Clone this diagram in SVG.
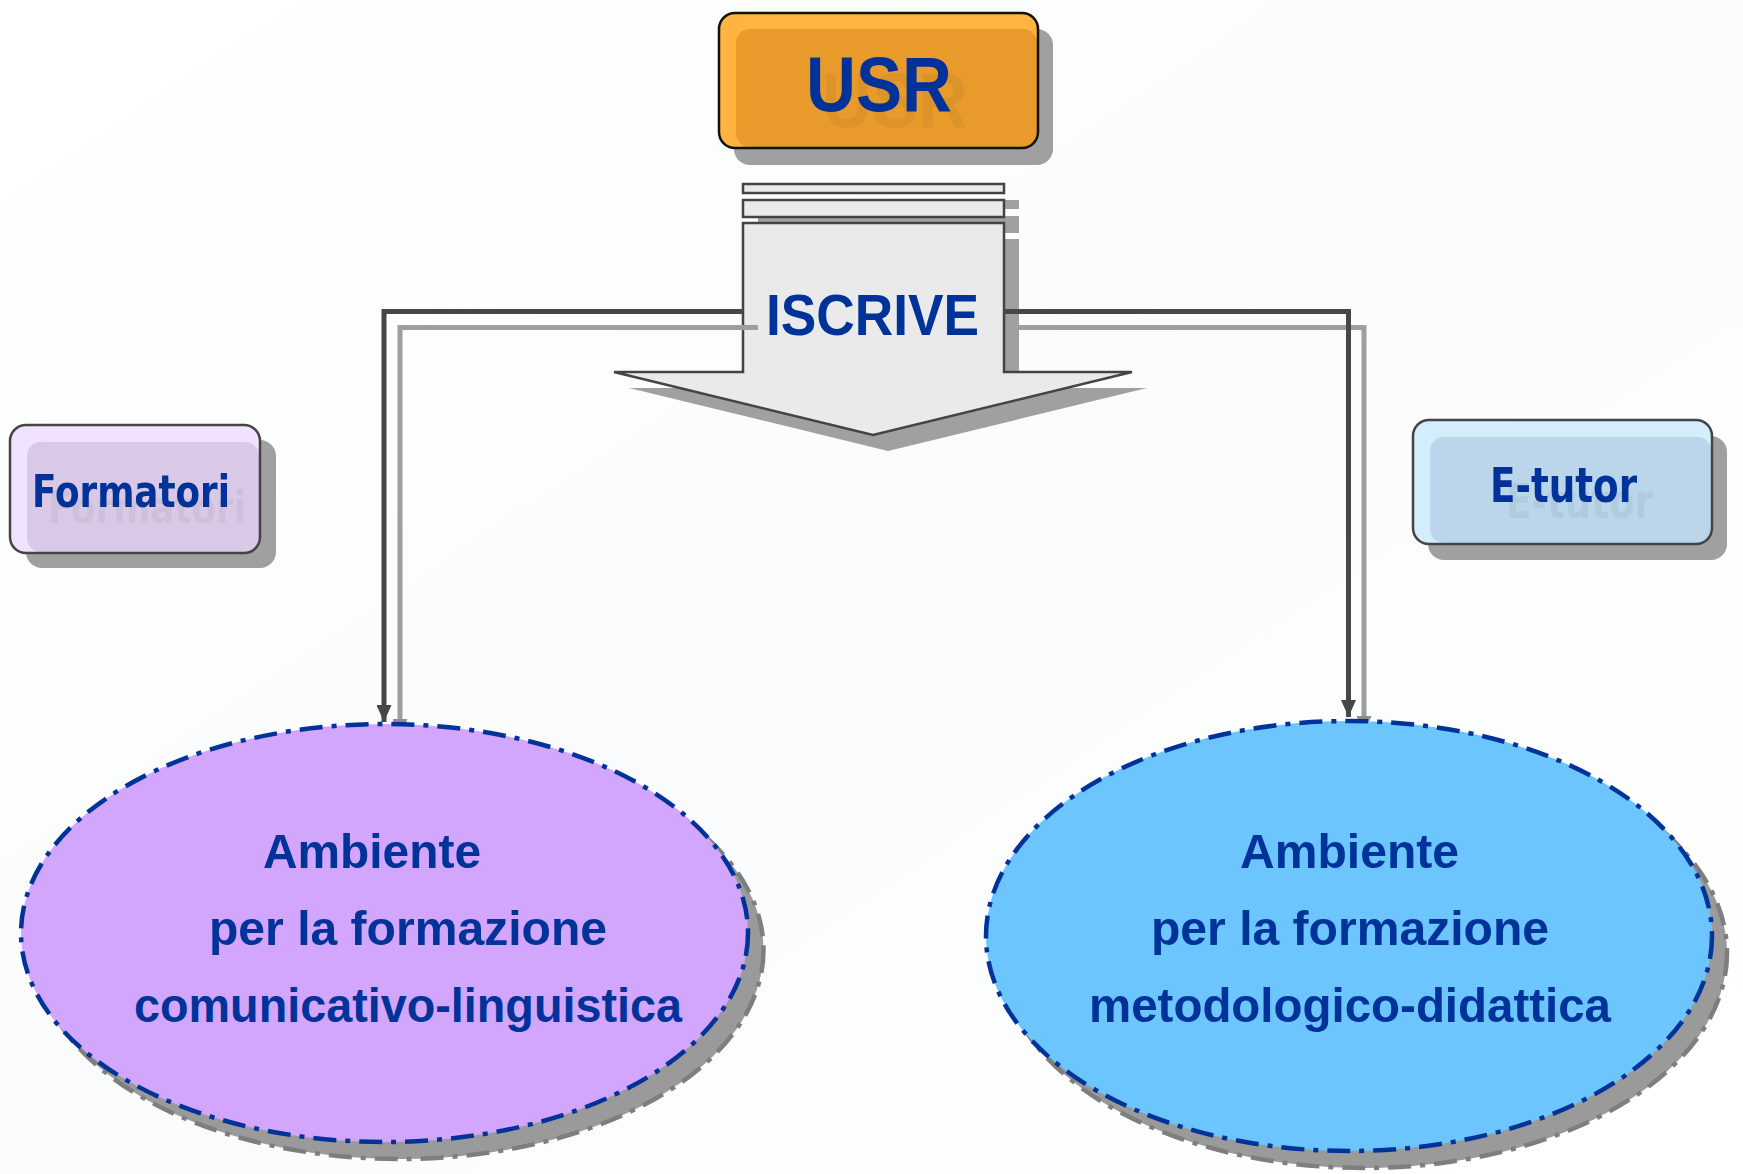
<svg xmlns="http://www.w3.org/2000/svg" width="1743" height="1174" viewBox="0 0 1743 1174">
<defs>
<style>
.shadow{fill:#A0A0A0;}
.box{stroke:#444;stroke-width:2.5;fill:none;}
.lbl{fill:#003399;font-family:"Liberation Sans",Arial,sans-serif;font-weight:bold;}
.lbl2{fill:#003399;font-family:"DejaVu Sans","Liberation Sans",sans-serif;font-weight:bold;}
.etxt{fill:#003399;font-family:"Liberation Sans Narrow","Liberation Sans",Arial,sans-serif;font-weight:bold;font-size:49px;}
.ell{stroke:#003399;stroke-width:4.5;stroke-dasharray:23 9 5 9;}
.ellsh{fill:#9A9A9A;stroke:#7E7E7E;stroke-width:4.5;stroke-dasharray:23 9 5 9;}
.conn{fill:none;stroke:#474747;stroke-width:5;}
.connsh{fill:none;stroke:#9E9E9E;stroke-width:5;}
.arr{fill:#EAEAEA;stroke:#444;stroke-width:2.5;}
</style>
<marker id="mDark" markerUnits="userSpaceOnUse" markerWidth="17" markerHeight="15" refX="17" refY="7.5" orient="auto" viewBox="0 0 17 15">
<path d="M0,0 L17,7.5 L0,15 z" fill="#474747"/>
</marker>
<marker id="mGray" markerUnits="userSpaceOnUse" markerWidth="17" markerHeight="15" refX="17" refY="7.5" orient="auto" viewBox="0 0 17 15">
<path d="M0,0 L17,7.5 L0,15 z" fill="#8E8E8E"/>
</marker>
<filter id="ghost" x="-20%" y="-20%" width="150%" height="160%">
<feOffset in="SourceAlpha" dx="16" dy="16" result="o"/>
<feFlood flood-color="#000" flood-opacity="0.05"/>
<feComposite in2="o" operator="in" result="s"/>
<feMerge><feMergeNode in="s"/><feMergeNode in="SourceGraphic"/></feMerge>
</filter>
<linearGradient id="bg" x1="0" y1="0" x2="1" y2="1">
<stop offset="0" stop-color="#FFFFFF"/>
<stop offset="0.5" stop-color="#FAFBFC"/>
<stop offset="1" stop-color="#FFFFFF"/>
</linearGradient>
</defs>
<rect x="0" y="0" width="1743" height="1174" fill="url(#bg)"/>

<g id="node-iscrive">
<rect class="shadow" x="758" y="200" width="261" height="9"/>
<rect class="shadow" x="758" y="216" width="261" height="17"/>
<polygon class="shadow" points="758,239 1019,239 1019,388 1147,388 888,451 629,388 758,388"/>
<rect class="arr" x="743" y="184" width="261" height="9"/>
<rect class="arr" x="743" y="200" width="261" height="17"/>
<polygon class="arr" points="743,223 1004,223 1004,372 1132,372 873,435 614,372 743,372"/>
<text class="lbl" x="766" y="335" font-size="58" textLength="213" lengthAdjust="spacingAndGlyphs">ISCRIVE</text>
</g>

<g id="connectors">
<path class="connsh" d="M758,327.5 H400 V736" marker-end="url(#mGray)"/>
<path class="connsh" d="M1019,327.5 H1364 V733" marker-end="url(#mGray)"/>
<path class="conn" d="M743,311.5 H384 V722" marker-end="url(#mDark)"/>
<path class="conn" d="M1004,311.5 H1348.5 V717" marker-end="url(#mDark)"/>
</g>

<g id="node-usr">
<rect class="shadow" x="734" y="29" width="319" height="136" rx="16"/>
<rect x="719" y="13" width="319" height="135" rx="16" fill="#FFB340"/>
<rect x="736" y="29" width="301" height="118" rx="14" fill="#E89B2B"/>
<rect x="719" y="13" width="319" height="135" rx="16" fill="none" stroke="#111" stroke-width="2.5"/>
<text class="lbl" x="806" y="111" font-size="78" textLength="146" lengthAdjust="spacingAndGlyphs" filter="url(#ghost)">USR</text>
</g>

<g id="node-formatori">
<rect class="shadow" x="26" y="440" width="250" height="128" rx="16"/>
<rect x="10" y="425" width="250" height="128" rx="16" fill="#F1E2FF"/>
<rect x="27" y="442" width="232" height="110" rx="14" fill="#D9C9E7"/>
<rect class="box" x="10" y="425" width="250" height="128" rx="16"/>
<text class="lbl2" x="32" y="507" font-size="44" textLength="198" lengthAdjust="spacingAndGlyphs" filter="url(#ghost)">Formatori</text>
</g>

<g id="node-etutor">
<rect class="shadow" x="1428" y="436" width="299" height="124" rx="16"/>
<rect x="1413" y="420" width="299" height="124" rx="16" fill="#D3EDFC"/>
<rect x="1430" y="437" width="281" height="106" rx="14" fill="#BBD6EA"/>
<rect class="box" x="1413" y="420" width="299" height="124" rx="16"/>
<text class="lbl2" x="1490" y="502" font-size="48" textLength="147" lengthAdjust="spacingAndGlyphs" filter="url(#ghost)">E-tutor</text>
</g>

<g id="node-ambiente-comunicativo">
<ellipse class="ellsh" cx="400" cy="950" rx="363.5" ry="209"/>
<ellipse class="ell" cx="384.5" cy="933" rx="363.5" ry="209" fill="#D3A6FE"/>
<text class="etxt" x="263" y="868" textLength="218" lengthAdjust="spacingAndGlyphs">Ambiente</text>
<text class="etxt" x="209" y="945" textLength="398" lengthAdjust="spacingAndGlyphs">per la formazione</text>
<text class="etxt" x="134" y="1022" textLength="548" lengthAdjust="spacingAndGlyphs">comunicativo-linguistica</text>
</g>

<g id="node-ambiente-metodologico">
<ellipse class="ellsh" cx="1364" cy="953" rx="363" ry="215"/>
<ellipse class="ell" cx="1349" cy="936" rx="363" ry="215" fill="#6CC5FD"/>
<text class="etxt" x="1240" y="868" textLength="219" lengthAdjust="spacingAndGlyphs">Ambiente</text>
<text class="etxt" x="1151" y="945" textLength="398" lengthAdjust="spacingAndGlyphs">per la formazione</text>
<text class="etxt" x="1089" y="1022" textLength="522" lengthAdjust="spacingAndGlyphs">metodologico-didattica</text>
</g>
</svg>
